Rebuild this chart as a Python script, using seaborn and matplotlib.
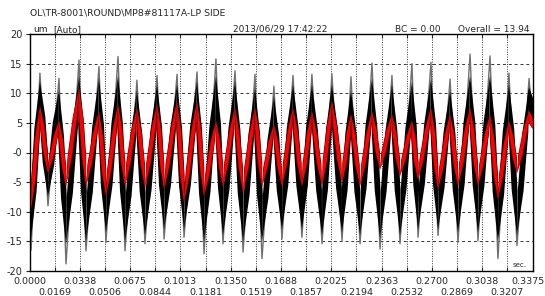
import numpy as np
import pandas as pd
import matplotlib
matplotlib.use("Agg")
import matplotlib.pyplot as plt
import matplotlib.transforms as mtransforms
import seaborn as sns

# waveform: troughs and peaks of every cycle (sec, um)
trough_t = [0.0010, 0.0124, 0.0245, 0.0379, 0.0513, 0.0641, 0.0775, 0.0903, 0.1037,
            0.1171, 0.1298, 0.1433, 0.1560, 0.1694, 0.1828, 0.1963, 0.2097, 0.2218,
            0.2352, 0.2486, 0.2607, 0.2741, 0.2875, 0.3009, 0.3143, 0.3271, 0.3375]
trough_black = [-14.5, -7.5, -15.5, -15.0, -13.5, -15.0, -14.0, -13.0, -13.0,
                -15.0, -14.0, -15.0, -15.0, -13.0, -13.0, -14.0, -13.5, -14.0,
                -14.5, -14.0, -13.0, -13.0, -13.5, -13.5, -15.0, -14.0, 5.0]
trough_needle = [-16.5, -9.0, -18.8, -16.6, -15.2, -16.6, -15.4, -14.6, -14.3,
                 -17.1, -15.4, -16.8, -17.9, -14.6, -14.3, -15.4, -14.9, -15.4,
                 -16.3, -15.4, -14.3, -14.0, -15.2, -14.9, -17.9, -15.7, 5.0]
trough_red = [-9.6, -3.5, -5.7, -5.7, -7.4, -5.7, -6.0, -6.3, -8.5,
              -7.4, -5.7, -6.8, -5.7, -5.7, -5.7, -5.7, -5.2, -5.7,
              -2.9, -4.0, -4.6, -6.3, -5.7, -5.7, -7.9, -3.5, 4.0]

peak_t = [0.0070, 0.0198, 0.0332, 0.0466, 0.0594, 0.0721, 0.0856, 0.0990, 0.1124,
          0.1251, 0.1379, 0.1513, 0.1640, 0.1768, 0.1895, 0.2029, 0.2157, 0.2298,
          0.2432, 0.2566, 0.2694, 0.2822, 0.2956, 0.3090, 0.3217, 0.3352]
peak_black = [12.0, 10.5, 13.0, 12.5, 13.0, 10.5, 11.5, 11.5, 12.0,
              13.0, 12.0, 11.0, 9.5, 11.5, 11.5, 11.5, 10.5, 12.5,
              11.5, 12.0, 12.5, 10.5, 13.0, 13.0, 11.5, 11.0]
peak_needle = [13.4, 12.5, 15.6, 14.5, 16.2, 12.2, 13.0, 13.2, 13.6,
               15.8, 13.8, 13.2, 11.2, 13.0, 13.2, 13.3, 12.8, 15.1,
               13.0, 15.0, 15.2, 12.4, 16.6, 16.3, 13.4, 12.5]
peak_red = [7.9, 5.4, 10.9, 7.0, 8.2, 7.6, 8.2, 8.7, 8.7,
            5.4, 7.6, 7.6, 4.8, 7.6, 7.0, 8.7, 6.5, 7.0,
            6.5, 5.4, 7.6, 6.5, 7.6, 6.5, 5.4, 7.0]

x_tick_labels = ["0.0000", "0.0169", "0.0338", "0.0506", "0.0675", "0.0844", "0.1013",
                 "0.1181", "0.1350", "0.1519", "0.1688", "0.1857", "0.2025", "0.2194",
                 "0.2363", "0.2532", "0.2700", "0.2869", "0.3038", "0.3207", "0.3375"]
y_ticks = [20, 15, 10, 5, 0, -5, -10, -15, -20]
y_tick_labels = ["20", "15", "10", "5", "-0", "-5", "-10", "-15", "-20"]

title = "OL\\TR-8001\\ROUND\\MP8#81117A-LP SIDE"

# interleave trough / peak into one path
rows = []
for i in range(len(trough_t)):
    rows.append((trough_t[i], trough_black[i], trough_needle[i], trough_red[i]))
    if i < len(peak_t):
        rows.append((peak_t[i], peak_black[i], peak_needle[i], peak_red[i]))
df = pd.DataFrame(rows, columns=["t", "black", "needle", "red"])

sns.set_style("white")
plt.rcParams["font.family"] = ["DejaVu Sans"]

W, H = 545, 296
fig = plt.figure(figsize=(W / 100, H / 100), dpi=100)
ax = fig.add_axes([29.5 / W, 1 - 271 / H, 503 / W, 237 / H])

SEC_PER_PX = 0.3375 / 503


def band(col, half_px, color, z):
    # each stroke between two extremes drawn as a tapered band
    w = half_px * SEC_PER_PX
    t = df["t"].values
    y = df[col].values
    for k in range(len(t) - 1):
        ta, tb, ya, yb = t[k], t[k + 1], y[k], y[k + 1]
        p1 = (ta + 0.3 * (tb - ta), ya + 0.3 * (yb - ya))
        p2 = (ta + 0.7 * (tb - ta), ya + 0.7 * (yb - ya))
        xs = [ta, p1[0] - w, p2[0] - w, tb, p2[0] + w, p1[0] + w]
        ys = [ya, p1[1], p2[1], yb, p2[1], p1[1]]
        ax.fill(xs, ys, color=color, lw=0, zorder=z)


sns.lineplot(data=df, x="t", y="needle", color="#6f6f6f", lw=1.0, ax=ax, zorder=2)
band("black", 2.9, "black", 3)
band("red", 2.4, "#6a0000", 4)
band("red", 1.8, "#ff0000", 5)

ax.set_xlim(0, 0.3375)
ax.set_ylim(-20, 20)
xt = np.linspace(0, 0.3375, len(x_tick_labels))
ax.set_xticks(xt[::2])
ax.set_xticklabels(x_tick_labels[::2])
ax.set_xticks(xt[1::2], minor=True)
ax.set_xticklabels(x_tick_labels[1::2], minor=True)
ax.set_yticks(y_ticks)
ax.set_yticklabels(y_tick_labels)
ax.set_xlabel("")
ax.set_ylabel("")

ax.tick_params(axis="y", direction="out", length=3, width=0.8, labelsize=7, pad=2, left=True)
ax.tick_params(axis="x", which="major", direction="in", length=3, width=0.8, labelsize=6.8,
               pad=4, bottom=True, top=True)
ax.tick_params(axis="x", which="minor", direction="in", length=3, width=0.8, labelsize=6.8,
               pad=12, bottom=True, top=True)

# last label sits against the right edge, as in the original
last = ax.xaxis.get_major_ticks()[-1].label1
last.set_transform(last.get_transform()
                   + mtransforms.ScaledTranslation(-0.045, 0, fig.dpi_scale_trans))

ax.set_axisbelow(True)
ax.grid(axis="x", which="both", linestyle=(0, (1, 1.5)), color="#333333", lw=0.7)
ax.grid(axis="y", linestyle=(0, (3, 3)), color="#333333", lw=0.7)
ax.axhline(0, color="#555555", lw=0.8, zorder=1)
for s in ax.spines.values():
    s.set_color("black")
    s.set_linewidth(1.0)


def fx(px):
    return px / W


def fy(py):
    return 1 - py / H


fig.text(fx(30), fy(15), title, fontsize=6.7, va="baseline")
fig.text(fx(33), fy(32), "um", fontsize=6.5, va="baseline")
fig.text(fx(53), fy(32), "[Auto]", fontsize=6.5, va="baseline")
fig.text(fx(280), fy(32), "2013/06/29 17:42:22", fontsize=6.5, va="baseline", ha="center")
fig.text(fx(418), fy(32), "BC = 0.00", fontsize=6.5, va="baseline", ha="center")
fig.text(fx(530), fy(32), "Overall = 13.94", fontsize=6.5, va="baseline", ha="right")
ax.text(0.989, 0.012, "sec.", fontsize=5, ha="right", va="bottom", transform=ax.transAxes)

fig.savefig("out.png", dpi=100)
